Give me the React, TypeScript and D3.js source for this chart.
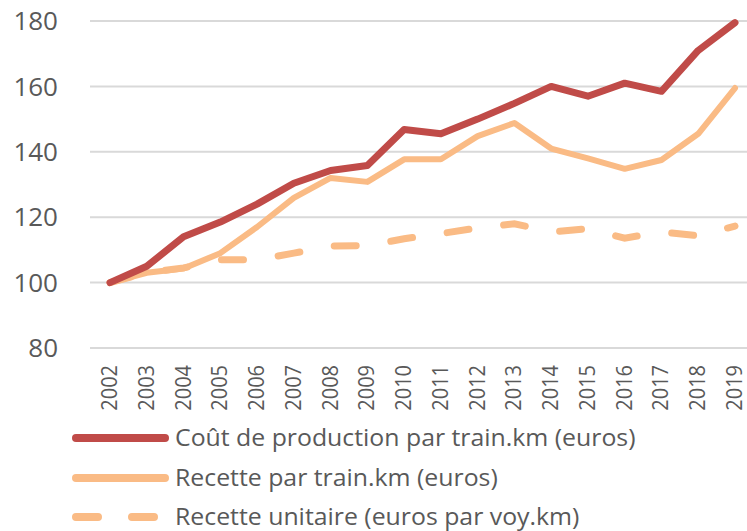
import React, { useRef, useEffect } from 'react';
import * as d3 from 'd3';

const years = ['2002', '2003', '2004', '2005', '2006', '2007', '2008', '2009', '2010', '2011', '2012', '2013', '2014', '2015', '2016', '2017', '2018', '2019'];
const coutProduction = [100, 105, 114, 118.5, 124, 130.4, 134.3, 135.8, 146.8, 145.5, 150, 154.8, 160, 157, 161, 158.5, 171, 179.5];
const recetteTrain = [100, 103, 104.3, 109, 117, 125.9, 132, 130.8, 137.7, 137.7, 144.8, 148.8, 141, 138, 134.8, 137.5, 145.5, 159.5];
const recetteUnitaire = [100, 103, 104.5, 107, 107, 109, 111.2, 111.3, 113.4, 115, 116.7, 118, 115.5, 116.5, 113.6, 115.5, 114.3, 117.3];
const yTicks = [80, 100, 120, 140, 160, 180];
const legendLabels = [
  'Coût de production par train.km (euros)',
  'Recette par train.km (euros)',
  'Recette unitaire (euros par voy.km)',
];

const RED = '#c04b48';
const ORANGE = '#fabb85';
const FONT = 'Open Sans, Liberation Sans, sans-serif';

const App = () => {
  const svgRef = useRef<SVGSVGElement>(null);

  useEffect(() => {
    const svg = d3.select(svgRef.current);
    svg.selectAll('*').remove();

    const width = 747;
    const height = 531;

    const x = d3.scalePoint().domain(years).range([110, 735]);
    const y = d3.scaleLinear().domain([80, 180]).range([348, 21]);

    // gridlines
    svg.append('g')
      .selectAll('line')
      .data(yTicks)
      .enter()
      .append('line')
      .attr('x1', 90)
      .attr('x2', width)
      .attr('y1', (d) => y(d))
      .attr('y2', (d) => y(d))
      .style('stroke', '#d9d9d9')
      .style('stroke-width', 2);

    // y labels
    svg.append('g')
      .selectAll('text')
      .data(yTicks)
      .enter()
      .append('text')
      .attr('x', 58)
      .attr('y', (d) => y(d))
      .attr('dy', '0.35em')
      .attr('text-anchor', 'end')
      .style('font-family', FONT)
      .style('font-size', '26px')
      .style('fill', '#595959')
      .text((d) => d);

    // x labels, rotated
    svg.append('g')
      .selectAll('text')
      .data(years)
      .enter()
      .append('text')
      .attr('transform', (d) => `translate(${x(d)! + 7},365) rotate(-90) scale(1,1.1)`)
      .attr('text-anchor', 'end')
      .style('font-family', FONT)
      .style('font-size', '20px')
      .style('fill', '#595959')
      .text((d) => d);

    const line = d3.line<number>()
      .x((_, i) => x(years[i])!)
      .y((d) => y(d));

    svg.append('path')
      .datum(recetteUnitaire)
      .attr('d', line)
      .style('fill', 'none')
      .style('stroke', ORANGE)
      .style('stroke-width', 7)
      .style('stroke-linecap', 'round')
      .style('stroke-dasharray', '22 35');

    svg.append('path')
      .datum(recetteTrain)
      .attr('d', line)
      .style('fill', 'none')
      .style('stroke', ORANGE)
      .style('stroke-width', 6)
      .style('stroke-linejoin', 'round')
      .style('stroke-linecap', 'round');

    svg.append('path')
      .datum(coutProduction)
      .attr('d', line)
      .style('fill', 'none')
      .style('stroke', RED)
      .style('stroke-width', 7)
      .style('stroke-linejoin', 'round')
      .style('stroke-linecap', 'round');

    // legend
    const legendColors = [RED, ORANGE, ORANGE];
    const legendDash = ['none', 'none', '22 34'];
    const legendY = [438, 478, 517];
    legendLabels.forEach((label, i) => {
      svg.append('line')
        .attr('x1', 76)
        .attr('x2', 165)
        .attr('y1', legendY[i])
        .attr('y2', legendY[i])
        .style('stroke', legendColors[i])
        .style('stroke-width', 8)
        .style('stroke-linecap', 'round')
        .style('stroke-dasharray', legendDash[i]);
      svg.append('text')
        .attr('transform', `translate(175,${legendY[i]}) scale(1.08,1)`)
        .attr('dy', '0.35em')
        .style('font-family', FONT)
        .style('font-size', '23px')
        .style('fill', '#595959')
        .text(label);
    });

    svg.attr('width', width).attr('height', height);
  }, []);

  return (
    <svg
      ref={svgRef}
      width={747}
      height={531}
      style={{ position: 'absolute', left: 0, top: 0, background: '#fff' }}
    />
  );
};

export default App;
